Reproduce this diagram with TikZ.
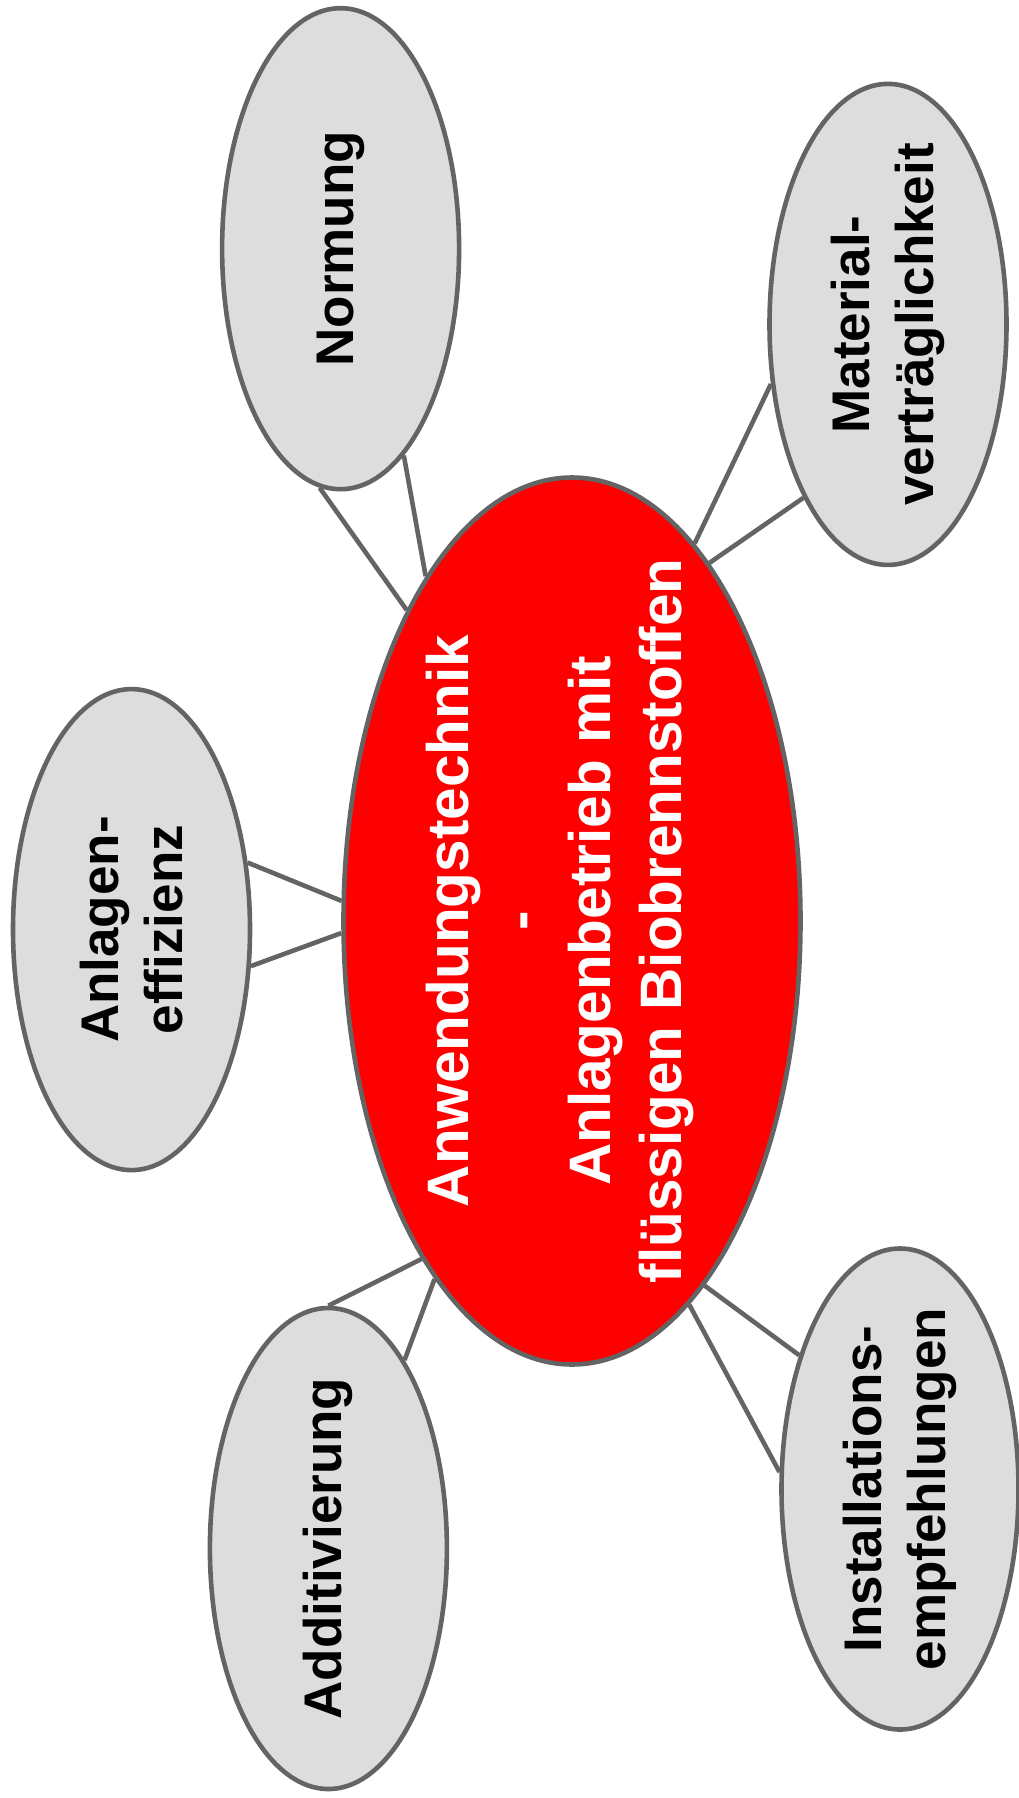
\documentclass[tikz,border=0pt]{standalone}
\usepackage{fontspec}
\setmainfont{Liberation Sans}
\usetikzlibrary{shapes.geometric}
\definecolor{edgegray}{HTML}{646464}
\definecolor{fillgray}{HTML}{DDDDDD}
\begin{document}
\begin{tikzpicture}[x=1pt,y=1pt,
  sat/.style={ellipse, draw=edgegray, fill=fillgray, line width=4.6pt, minimum width=237pt, minimum height=481pt, inner sep=0pt},
  hub/.style={ellipse, draw=edgegray, fill=red, line width=4.6pt, minimum width=457pt, minimum height=887pt, inner sep=0pt},
  sattext/.style={rotate=90, align=center, font=\fontsize{53}{63.5}\selectfont\bfseries, text=black, inner sep=0pt},
  hubtext/.style={rotate=90, align=center, font=\fontsize{58.5}{71}\selectfont\bfseries, text=white, inner sep=0pt},
  link/.style={draw=edgegray, line width=4.6pt}
]
\useasboundingbox (0,0) rectangle (1019,-1798);

\node[hub] (hub) at (572,-921) {};
\node[sat] (norm) at (340.6,-248.7) {};
\node[sat] (mat) at (888,-324.4) {};
\node[sat] (eff) at (131.5,-929.6) {};
\node[sat] (add) at (328.4,-1548.5) {};
\node[sat] (inst) at (900,-1489) {};

\draw[link] (norm.-95.5) -- (hub.118.9);
\draw[link] (norm.-73.1) -- (hub.113.3);
\draw[link] (mat.-153.9) -- (hub.72.9);
\draw[link] (mat.-116.1) -- (hub.69.2);
\draw[link] (eff.30.9) -- (hub.175.2);
\draw[link] (eff.-17.1) -- (hub.-177.9);
\draw[link] (add.90.4) -- (hub.-114.6);
\draw[link] (add.68.8) -- (hub.-111.9);
\draw[link] (inst.172.6) -- (hub.-73);
\draw[link] (inst.127.3) -- (hub.-70.5);

\node[hubtext] (hubt) at (560,-921) {Anwendungstechnik\\-\\Anlagenbetrieb mit\\flüssigen Biobrennstoffen};
\node[sattext] (normt) at (norm) {Normung};
\node[sattext] (matt) at (mat) {Material-\\verträglichkeit};
\node[sattext] (efft) at (eff) {Anlagen-\\effizienz};
\node[sattext] (addt) at (add) {Additivierung};
\node[sattext] (instt) at (inst) {Installations-\\empfehlungen};
\end{tikzpicture}
\end{document}
